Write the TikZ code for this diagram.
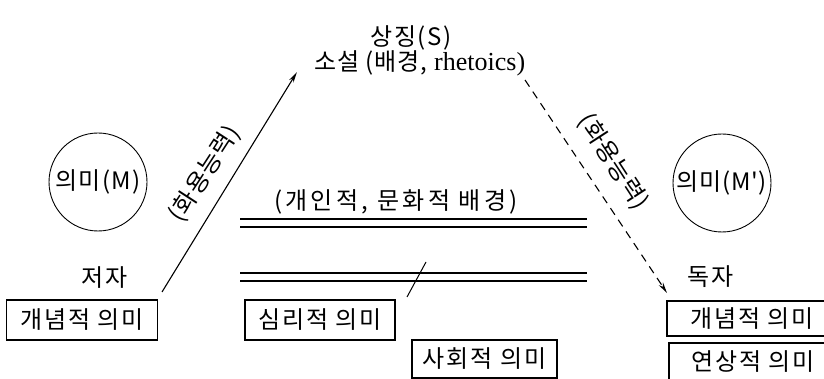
\documentclass[tikz,border=0pt]{standalone}
\usepackage{fontspec}
\usetikzlibrary{arrows.meta}
\newfontfamily\krA{Noto Sans CJK KR}[LetterSpace=8]
\newfontfamily\krB{Noto Sans CJK KR}[LetterSpace=6]
\newfontfamily\krC{Noto Sans CJK KR}[LetterSpace=14]
\newfontfamily\krD{Noto Sans CJK KR}[LetterSpace=3]
\newfontfamily\lat{Liberation Serif}
\begin{document}
\begin{tikzpicture}[x=1pt,y=-1pt,
  lab/.style={inner sep=0pt},
  big/.style={font=\fontsize{24}{26}\selectfont},
  meanbox/.style={draw,line width=1.6pt,inner sep=0pt,minimum height=38pt},
  circ/.style={draw,circle,line width=0.9pt,minimum size=98pt,inner sep=0pt},
  arr/.style={line width=1.1pt,-{Stealth[length=11pt,width=5pt]}},
  dline/.style={line width=1.1pt},
]
\useasboundingbox (0,0) rectangle (824,379);
% top
\node[lab,big] (sym) at (411,38) {\krB 상징(S)};
\node[lab,big] (novel) at (420,63) {{\krD 소설 (배경,} {\fontsize{26}{26}\selectfont\lat rhetoics)}};
% circles
\node[circ,big] (m1) at (98,182) {\krB 의미(M)};
\node[circ,big] (m2) at (722,183) {\krD 의미(M')};
% writer / reader
\node[lab,big] (writer) at (105,278) {\krA 저자};
\node[lab,big] (reader) at (711,277) {\krA 독자};
% boxes
\node[meanbox,big,minimum width=151pt,minimum height=40pt] (b1) at (82,320) {\krA 개념적 의미};
\node[meanbox,big,minimum width=150pt,minimum height=40pt] (b2) at (320,320) {\krA 심리적 의미};
\node[meanbox,big,minimum width=145pt] (b3) at (484.5,359) {\krA 사회적 의미};
\node[meanbox,big,minimum width=170pt,minimum height=35pt] (b4) at (752,318.5) {\krA 개념적 의미\hspace{3pt}};
\node[meanbox,big,minimum width=168pt,minimum height=37pt] (b5) at (753,361.5) {\krA 연상적 의미\hspace{8pt}};
% background text and lines
\node[lab,big] (bg) at (396,202) {\krC (개인적, 문화적 배경)};
\coordinate (l1a) at (240,219); \coordinate (l1b) at (587,219);
\coordinate (l2a) at (240,227); \coordinate (l2b) at (587,227);
\coordinate (l3a) at (240,273); \coordinate (l3b) at (587,273);
\coordinate (l4a) at (240,281); \coordinate (l4b) at (587,281);
\draw[dline] (l1a) -- (l1b);
\draw[dline] (l2a) -- (l2b);
\draw[dline] (l3a) -- (l3b);
\draw[dline] (l4a) -- (l4b);
\coordinate (sa) at (407,297); \coordinate (sb) at (426,262);
\draw[line width=1pt] (sa) -- (sb);
% arrows
\coordinate (wa) at (162,292); \coordinate (wb) at (297,72);
\draw[arr] (wa) -- (wb);
\coordinate (ra) at (525,80); \coordinate (rb) at (667,293);
\draw[arr,dash pattern=on 8pt off 6pt] (ra) -- (rb);
\node[lab,big,rotate=57] (c1) at (205,174) {\krD (화용능력)};
\node[lab,big,rotate=-57] (c2) at (613,162) {\krD (화용능력)};
\end{tikzpicture}
\end{document}
